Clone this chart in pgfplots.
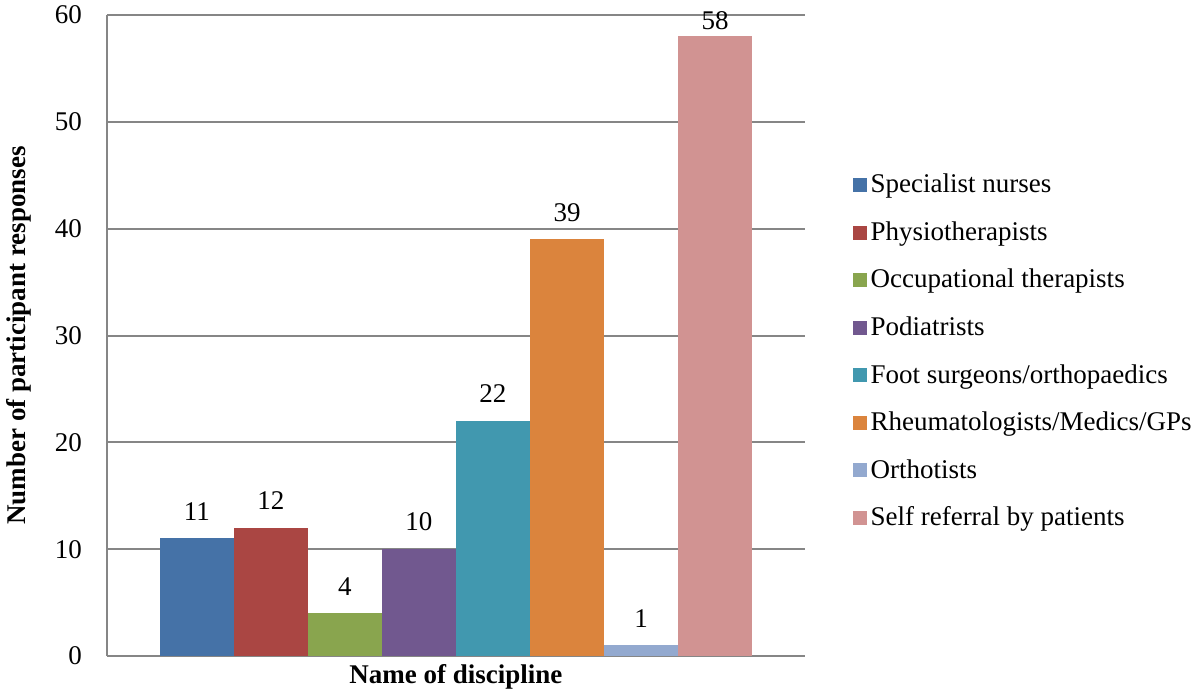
\documentclass[border=0pt]{standalone}
\usepackage{fontspec}
\setmainfont{Liberation Serif}
\usepackage{pgfplots}
\pgfplotsset{compat=1.18}

\definecolor{c1}{RGB}{69,114,167}
\definecolor{c2}{RGB}{170,70,67}
\definecolor{c3}{RGB}{137,165,78}
\definecolor{c4}{RGB}{113,88,143}
\definecolor{c5}{RGB}{65,152,175}
\definecolor{c6}{RGB}{219,132,61}
\definecolor{c7}{RGB}{147,169,207}
\definecolor{c8}{RGB}{209,147,146}
\definecolor{gridgray}{RGB}{134,134,134}

\begin{document}
\begin{tikzpicture}
\path[use as bounding box] (0,0) rectangle (600pt,346pt);
\begin{axis}[
    at={(53.5pt,18pt)}, anchor=south west,
    scale only axis,
    width=349pt, height=320.5pt,
    ybar, bar width=1, bar shift=0pt,
    xmin=-1.216, xmax=8.216,
    ymin=0, ymax=60,
    ytick={0,10,...,60},
    xtick=\empty,
    axis x line*=bottom, axis y line*=left,
    axis line style={gridgray, line width=1pt, -},
    ymajorgrids, grid style={gridgray, line width=1pt},
    major tick length=0pt,
    tick label style={font=\fontsize{13.5}{16}\selectfont},
    /pgf/number format/assume math mode=true,
    yticklabel style={xshift=-9pt},
    xlabel={\bfseries Name of discipline},
    ylabel={\bfseries Number of participant responses},
    label style={font=\fontsize{13.5}{16}\selectfont},
    xlabel style={yshift=-0.5pt},
    ylabel style={yshift=5pt},
    nodes near coords,
    every node near coord/.append style={font=\fontsize{13.5}{16}\selectfont, yshift=5.5pt},
    legend style={draw=none, at={(1.059,0.475)}, anchor=west,
        font=\fontsize{13.5}{16}\selectfont, row sep=8.9pt,
        legend cell align=left},
    legend image code/.code={\fill[#1, draw=none] (0pt,-3.5pt) rectangle (7pt,3.5pt);},
]
\addplot[fill=c1, draw=none] coordinates {(0,11)};
\addplot[fill=c2, draw=none] coordinates {(1,12)};
\addplot[fill=c3, draw=none] coordinates {(2,4)};
\addplot[fill=c4, draw=none] coordinates {(3,10)};
\addplot[fill=c5, draw=none] coordinates {(4,22)};
\addplot[fill=c6, draw=none] coordinates {(5,39)};
\addplot[fill=c7, draw=none] coordinates {(6,1)};
\addplot[fill=c8, draw=none, every node near coord/.append style={yshift=-5.5pt}] coordinates {(7,58)};
\legend{Specialist nurses, Physiotherapists, Occupational therapists, Podiatrists, Foot surgeons/orthopaedics, Rheumatologists/Medics/GPs, Orthotists, Self referral by patients}
\end{axis}
\end{tikzpicture}
\end{document}
